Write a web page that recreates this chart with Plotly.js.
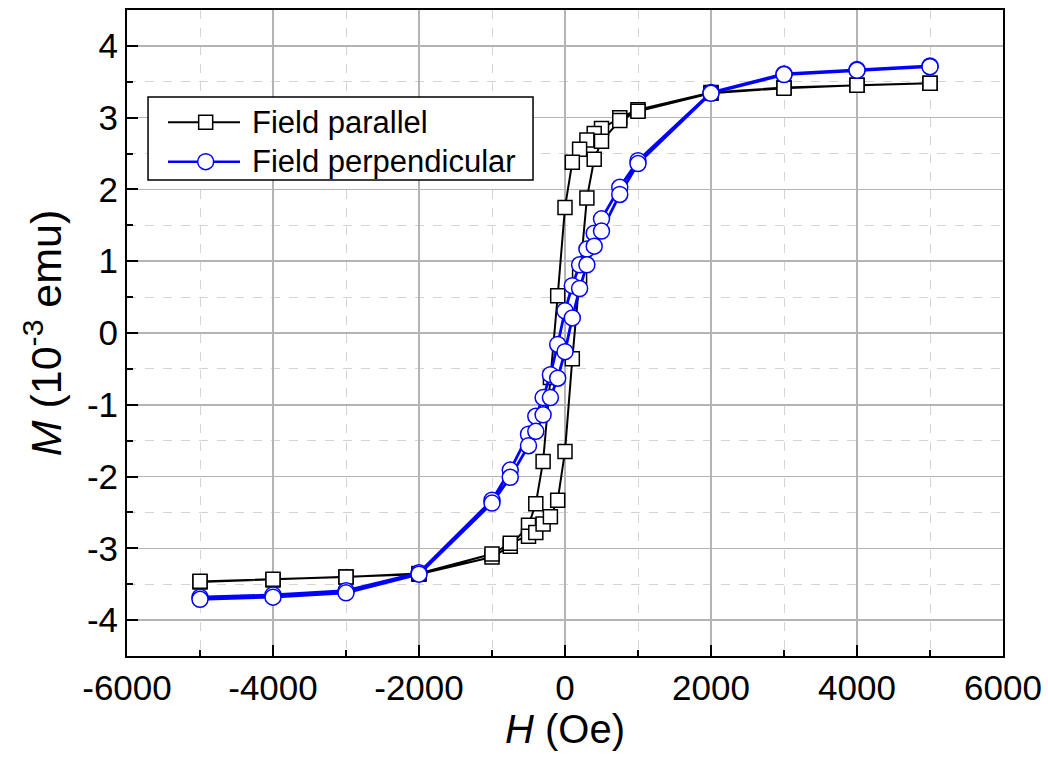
<!DOCTYPE html>
<html>
<head>
<meta charset="utf-8">
<script src="https://cdn.plot.ly/plotly-3.0.1.min.js"></script>
<style>
  html, body { margin: 0; padding: 0; background: #ffffff; }
  #chart { width: 1048px; height: 760px; }
</style>
</head>
<body>
<div id="chart"></div>
<script>
// Field sweep (Oe): descending from +5000 to -5000, then ascending back
const fieldDown = [5000, 4000, 3000, 2000, 1000, 750, 500, 400, 300, 200, 100, 0,
  -100, -200, -300, -400, -500, -750, -1000, -2000, -3000, -4000, -5000];
const fieldUp = [-5000, -4000, -3000, -2000, -1000, -750, -500, -400, -300, -200, -100, 0,
  100, 200, 300, 400, 500, 750, 1000, 2000, 3000, 4000, 5000];

// Field parallel: M (10^-3 emu)
const parallelDown = [3.48, 3.45, 3.42, 3.35, 3.11, 3.00, 2.85, 2.78, 2.69, 2.56, 2.38, 1.75,
  0.52, -0.62, -1.79, -2.38, -2.68, -2.97, -3.12, -3.36, -3.40, -3.44, -3.47];
const parallelUp = [-3.46, -3.43, -3.40, -3.35, -3.08, -2.93, -2.83, -2.78, -2.66, -2.56, -2.33, -1.65,
  -0.36, 0.78, 1.88, 2.42, 2.67, 2.96, 3.09, 3.34, 3.41, 3.45, 3.48];

// Field perpendicular: M (10^-3 emu)
const perpDown = [3.72, 3.67, 3.61, 3.35, 2.40, 2.03, 1.59, 1.39, 1.17, 0.95, 0.66, 0.31,
  -0.16, -0.58, -0.90, -1.16, -1.41, -1.91, -2.33, -3.34, -3.59, -3.65, -3.68];
const perpUp = [-3.71, -3.68, -3.62, -3.36, -2.37, -2.01, -1.57, -1.37, -1.14, -0.90, -0.63, -0.26,
  0.21, 0.62, 0.95, 1.21, 1.42, 1.93, 2.36, 3.34, 3.60, 3.66, 3.71];

const seriesNames = ['Field parallel', 'Field perpendicular'];

// Tick labels
const xTickVals = [-6000, -4000, -2000, 0, 2000, 4000, 6000];
const xTickText = ['-6000', '-4000', '-2000', '0', '2000', '4000', '6000'];
const yTickVals = [-4, -3, -2, -1, 0, 1, 2, 3, 4];
const yTickText = ['-4', '-3', '-2', '-1', '0', '1', '2', '3', '4'];

const FONT = 'Liberation Sans, Arial, sans-serif';
const BLUE = '#0000ff';

const traces = [
  {
    x: fieldDown.concat(fieldUp),
    y: parallelDown.concat(parallelUp),
    name: seriesNames[0],
    type: 'scatter', mode: 'lines+markers',
    line: { color: '#000000', width: 2 },
    marker: { symbol: 'square', size: 14, color: '#ffffff', line: { color: '#000000', width: 1.5 } },
    showlegend: false
  },
  {
    x: fieldDown.concat(fieldUp),
    y: perpDown.concat(perpUp),
    name: seriesNames[1],
    type: 'scatter', mode: 'lines+markers',
    line: { color: BLUE, width: 2.8 },
    marker: { symbol: 'circle', size: 16, color: '#ffffff', line: { color: BLUE, width: 1.5 } },
    showlegend: false
  }
];

// Custom legend (paper coordinates)
const legX0 = 0.024, legX1 = 0.4635, legY0 = 0.7368, legY1 = 0.8653;
const rowY = [0.8262, 0.7652];
const symL = 0.0468, symR = 0.129, symC = 0.0898, textX = 0.140;

const shapes = [
  { type: 'rect', xref: 'paper', yref: 'paper', x0: legX0, x1: legX1, y0: legY0, y1: legY1,
    line: { color: '#000000', width: 1.5 }, fillcolor: '#ffffff', layer: 'above' },
  { type: 'line', xref: 'paper', yref: 'paper', x0: symL, x1: symR, y0: rowY[0], y1: rowY[0],
    line: { color: '#000000', width: 2 }, layer: 'above' },
  { type: 'line', xref: 'paper', yref: 'paper', x0: symL, x1: symR, y0: rowY[1], y1: rowY[1],
    line: { color: BLUE, width: 2.5 }, layer: 'above' },
  { type: 'rect', xref: 'paper', yref: 'paper', xsizemode: 'pixel', ysizemode: 'pixel',
    xanchor: symC, yanchor: rowY[0], x0: -7, x1: 7, y0: -7, y1: 7,
    line: { color: '#000000', width: 1.5 }, fillcolor: '#ffffff', layer: 'above' },
  { type: 'circle', xref: 'paper', yref: 'paper', xsizemode: 'pixel', ysizemode: 'pixel',
    xanchor: symC, yanchor: rowY[1], x0: -8, x1: 8, y0: -8, y1: 8,
    line: { color: BLUE, width: 1.5 }, fillcolor: '#ffffff', layer: 'above' }
];

const annotations = seriesNames.map((name, i) => ({
  xref: 'paper', yref: 'paper', x: textX, y: rowY[i], xanchor: 'left', yanchor: 'middle',
  text: name, showarrow: false, font: { family: FONT, size: 31, color: '#000000' }
}));

const axisCommon = {
  showline: true, linecolor: '#000000', linewidth: 2, mirror: true,
  ticks: 'inside', ticklen: 11, tickwidth: 2, tickcolor: '#000000',
  showgrid: true, gridcolor: '#b4b4b4', gridwidth: 1.5, zeroline: false,
  tickfont: { family: FONT, size: 35, color: '#000000' },
  tickmode: 'array'
};

const layout = {
  width: 1048, height: 760,
  margin: { l: 127, r: 45, t: 10, b: 104 },
  paper_bgcolor: '#ffffff', plot_bgcolor: '#ffffff',
  showlegend: false,
  xaxis: Object.assign({}, axisCommon, {
    range: [-6000, 6000], tickvals: xTickVals, ticktext: xTickText,
    minor: { tickmode: 'linear', tick0: 0, dtick: 1000, ticks: 'inside', ticklen: 6, tickwidth: 2,
      tickcolor: '#000000', showgrid: true, griddash: 'dash', gridcolor: '#d4d4d4', gridwidth: 1 },
    title: { text: '<i>H</i> (Oe)', font: { family: FONT, size: 40, color: '#000000' }, standoff: 6 }
  }),
  yaxis: Object.assign({}, axisCommon, {
    range: [-4.5, 4.5], tickvals: yTickVals, ticktext: yTickText,
    minor: { tickmode: 'linear', tick0: 0, dtick: 0.5, ticks: 'inside', ticklen: 6, tickwidth: 2,
      tickcolor: '#000000', showgrid: true, griddash: 'dash', gridcolor: '#d4d4d4', gridwidth: 1 },
    title: { text: '<i>M</i> (10<sup>-3</sup> emu)', font: { family: FONT, size: 43, color: '#000000' }, standoff: 12 }
  }),
  shapes: shapes,
  annotations: annotations
};

Plotly.newPlot('chart', traces, layout, { staticPlot: true, displayModeBar: false });
</script>
</body>
</html>
